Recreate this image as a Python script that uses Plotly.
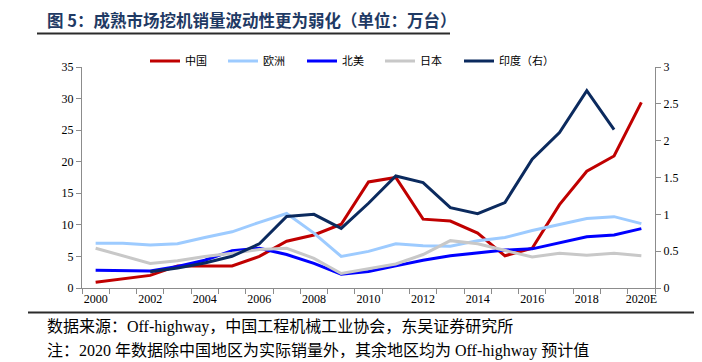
import plotly.graph_objects as go

# ---------------- data ----------------
years = ["2000", "2001", "2002", "2003", "2004", "2005", "2006", "2007", "2008", "2009",
         "2010", "2011", "2012", "2013", "2014", "2015", "2016", "2017", "2018", "2019", "2020E"]
x_tick_text = [y if i % 2 == 0 else "" for i, y in enumerate(years)]

china = [0.9, 1.4, 2.0, 3.5, 3.5, 3.5, 5.0, 7.4, 8.4, 10.1, 16.8, 17.5, 10.9, 10.6, 8.7,
         5.1, 6.3, 13.2, 18.5, 20.9, 29.4]
europe = [7.1, 7.1, 6.8, 7.0, 8.0, 8.9, 10.4, 11.8, 8.7, 5.0, 5.8, 7.0, 6.7, 6.6, 7.5,
          8.0, 9.1, 10.1, 11.0, 11.3, 10.2]
north_america = [2.8, 2.7, 2.7, 3.4, 4.4, 5.9, 6.3, 5.3, 3.9, 2.2, 2.6, 3.5, 4.4, 5.1, 5.6,
                 6.0, 6.2, 7.2, 8.1, 8.4, 9.4]
japan = [6.3, 5.1, 3.9, 4.3, 5.0, 5.5, 6.1, 6.3, 4.7, 2.3, 3.1, 3.8, 5.3, 7.5, 7.0,
         6.0, 4.9, 5.5, 5.2, 5.5, 5.1]
india = [None, None, 0.22, 0.27, 0.34, 0.43, 0.60, 0.97, 1.00, 0.81, 1.15, 1.52, 1.43, 1.09, 1.01,
         1.16, 1.75, 2.11, 2.68, 2.15, None]

series_names = ["中国", "欧洲", "北美", "日本", "印度（右）"]
series_colors = ["#C00000", "#9DCBFF", "#0000FF", "#C8C8C8", "#0B2A5E"]

title_text = "图 5：成熟市场挖机销量波动性更为弱化（单位：万台）"
source_text = "数据来源：Off-highway，中国工程机械工业协会，东吴证券研究所"
note_text = "注：2020 年数据除中国地区为实际销量外，其余地区均为 Off-highway 预计值"

# ---------------- layout geometry (screen pixels; page body has an 8px margin) ----------------
OFF = 8
W, H = 702, 362
L, R, T, B = 82 - OFF, 655 - OFF, 67 - OFF, 288 - OFF


def px(xs):
    return (xs - OFF - L) / (R - L)


def py(ys):
    return (B - (ys - OFF)) / (B - T)


AXIS_COLOR = "#8C8C8C"
TICK_FONT = dict(family="Liberation Serif, Times New Roman, serif", size=12, color="#000000")
LEGEND_FONT = dict(family="Noto Sans CJK SC", size=11, color="#000000")
legend_line_starts = [150, 228, 307, 385, 464]

fig = go.Figure()
all_series = [china, europe, north_america, japan, india]
for i, (name, vals, col) in enumerate(zip(series_names, all_series, series_colors)):
    lg = "legend" if i == 0 else "legend%d" % (i + 1)
    fig.add_trace(go.Scatter(x=years, y=vals, name=name, mode="lines",
                             line=dict(color=col, width=3),
                             yaxis="y2" if i == 4 else "y",
                             connectgaps=False, legend=lg))

legend_layout = {}
for i, xs in enumerate(legend_line_starts):
    key = "legend" if i == 0 else "legend%d" % (i + 1)
    legend_layout[key] = dict(orientation="h", xref="container", yref="container",
                              x=(xs - OFF - 5) / W, y=1 - (61 - OFF) / H,
                              xanchor="left", yanchor="middle",
                              font=LEGEND_FONT, bgcolor="rgba(0,0,0,0)", borderwidth=0)

fig.update_layout(
    width=W, height=H,
    margin=dict(l=L, r=W - R, t=T, b=H - B, pad=0, autoexpand=False),
    paper_bgcolor="white", plot_bgcolor="white",
    showlegend=True,
    xaxis=dict(type="category", categoryorder="array", categoryarray=years,
               range=[-0.5, len(years) - 0.5],
               tickmode="array", tickvals=years, ticktext=x_tick_text, tickangle=0,
               tickson="boundaries", ticks="outside", ticklen=5, tickcolor=AXIS_COLOR,
               showline=True, linecolor=AXIS_COLOR, linewidth=1,
               showgrid=False, zeroline=False, tickfont=TICK_FONT),
    yaxis=dict(range=[0, 35], dtick=5, tick0=0, ticks="outside", ticklen=5,
               tickcolor=AXIS_COLOR, showline=True, linecolor=AXIS_COLOR, linewidth=1,
               showgrid=False, zeroline=False, tickfont=TICK_FONT),
    yaxis2=dict(range=[0, 3], dtick=0.5, tick0=0, overlaying="y", side="right",
                ticks="outside", ticklen=5, tickcolor=AXIS_COLOR, showline=True,
                linecolor=AXIS_COLOR, linewidth=1, showgrid=False, zeroline=False,
                tickfont=TICK_FONT),
    **legend_layout,
)

# title
fig.add_annotation(text="<b>" + title_text + "</b>", xref="paper", yref="paper",
                   x=px(45), y=py(20), xanchor="left", yanchor="middle", showarrow=False,
                   font=dict(family="Noto Sans CJK SC", size=16.5, color="#1F3A64"))
fig.add_shape(type="line", xref="paper", yref="paper", x0=px(37), x1=px(450),
              y0=py(33.5), y1=py(33.5), line=dict(color="#2B2B2B", width=2))

# footer
fig.add_shape(type="line", xref="paper", yref="paper", x0=px(28), x1=px(710),
              y0=py(312.5), y1=py(312.5), line=dict(color="#2B2B2B", width=2))
FOOT_FONT = dict(family="Liberation Serif, Noto Sans CJK SC, serif", size=16, color="#000000")
fig.add_annotation(text=source_text, xref="paper", yref="paper", x=px(45), y=py(327),
                   xanchor="left", yanchor="middle", showarrow=False, font=FOOT_FONT)
fig.add_annotation(text=note_text, xref="paper", yref="paper", x=px(45), y=py(350),
                   xanchor="left", yanchor="middle", showarrow=False, font=FOOT_FONT)

fig.write_html("out.html")
